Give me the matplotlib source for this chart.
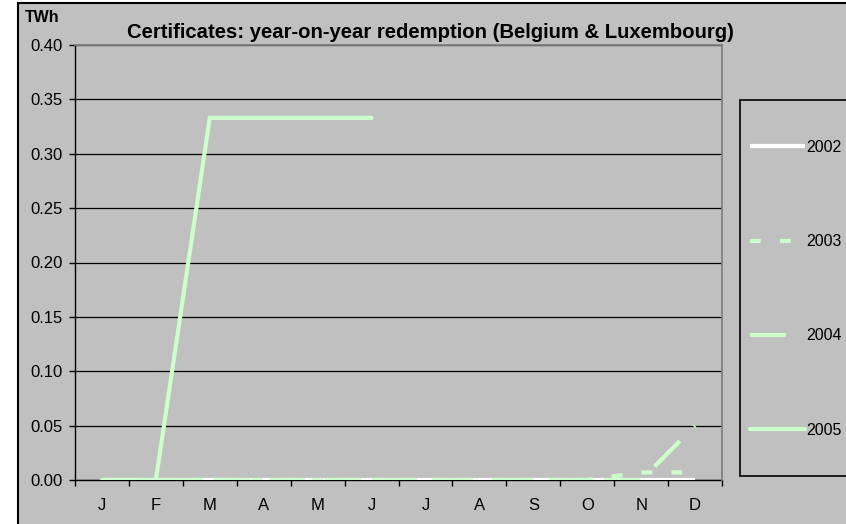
import matplotlib
matplotlib.use("Agg")
import matplotlib.pyplot as plt
from matplotlib.patches import Rectangle
from matplotlib.ticker import FixedLocator, FormatStrFormatter

# data (TWh)
months = ['J', 'F', 'M', 'A', 'M', 'J', 'J', 'A', 'S', 'O', 'N', 'D']
y2002 = [0, 0, 0, 0, 0, 0, 0, 0, 0, 0, 0, 0]
y2003 = [0, 0, 0, 0, 0, 0, 0, 0, 0, 0, 0.007, 0.007]
y2004 = [0, 0, 0, 0, 0, 0, 0, 0, 0, 0, 0, 0.05]
y2005 = [0, 0, 0.333, 0.333, 0.333, 0.333]
yticks = [0.0, 0.05, 0.10, 0.15, 0.20, 0.25, 0.30, 0.35, 0.40]

W, H = 846, 524
plt.rcParams['font.family'] = ['Liberation Sans', 'DejaVu Sans']

fig = plt.figure(figsize=(W / 100, H / 100), dpi=100, facecolor='white')

# chart area (gray with black border, runs off right/bottom)
outer = Rectangle((18 / W, 1 - 530 / H), 840 / W, 527 / H, transform=fig.transFigure,
                  facecolor='#c0c0c0', edgecolor='black', linewidth=1.5, zorder=-5)
fig.add_artist(outer)

ax = fig.add_axes([75 / W, 1 - 480 / H, 647 / W, 435 / H])
ax.set_facecolor('#c0c0c0')

green = '#ccffcc'
x = list(range(12))
ax.plot(x, y2002, color='white', lw=3, solid_capstyle='butt', label='2002', zorder=3)
ax.plot(x, y2003, color=green, lw=3, linestyle=(0, (2.6, 4.6)), dash_capstyle='butt',
        label='2003', zorder=3)
ax.plot(x, y2004, color=green, lw=3, linestyle=(0, (8.6, 4.8)), dash_capstyle='butt',
        label='2004', zorder=3)
ax.plot(x[:len(y2005)], y2005, color=green, lw=3, solid_capstyle='round',
        solid_joinstyle='miter', label='2005', zorder=4)

ax.set_xlim(-0.5, 11.5)
ax.set_ylim(0, 0.4)

# y axis
ax.yaxis.set_major_locator(FixedLocator(yticks))
ax.yaxis.set_major_formatter(FormatStrFormatter('%.2f'))
ax.tick_params(axis='y', direction='out', length=4.5, width=1, pad=4.5, labelsize=12)
ax.yaxis.grid(True, color='black', linewidth=0.9)
ax.set_axisbelow(True)

# x axis: labels at centres, ticks at boundaries
ax.set_xticks(x)
ax.set_xticklabels(months)
ax.tick_params(axis='x', which='major', length=0, pad=13, labelsize=12)
ax.xaxis.set_minor_locator(FixedLocator([i + 0.5 for i in range(-1, 12)]))
ax.tick_params(axis='x', which='minor', direction='out', length=4, width=1)

for s in ['left', 'bottom']:
    ax.spines[s].set_color('black')
    ax.spines[s].set_linewidth(1)
for s in ['top', 'right']:
    ax.spines[s].set_color('#808080')
    ax.spines[s].set_linewidth(1.3)
    ax.spines[s].set_zorder(5)

# titles
fig.text(430 / W, 1 - 33 / H,
         'Certificates: year-on-year redemption (Belgium & Luxembourg)',
         ha='center', va='center', fontsize=14.6, fontweight='bold')
fig.text(25 / W, 1 - 18 / H, 'TWh', ha='left', va='center', fontsize=11.5,
         fontweight='bold')

# legend box
box = Rectangle((740 / W, 1 - 476 / H), 120 / W, 376 / H, transform=fig.transFigure,
                facecolor='#c0c0c0', edgecolor='black', linewidth=1.2, zorder=1)
fig.add_artist(box)
leg = fig.legend(loc='upper left', bbox_to_anchor=(750 / W, 1 - 140 / H),
                 frameon=False, fontsize=11.5, handlelength=3.45, handletextpad=0.05,
                 labelspacing=4.96, borderpad=0, borderaxespad=0)
leg.set_zorder(2)

fig.savefig('out.png', dpi=100, facecolor='white')
